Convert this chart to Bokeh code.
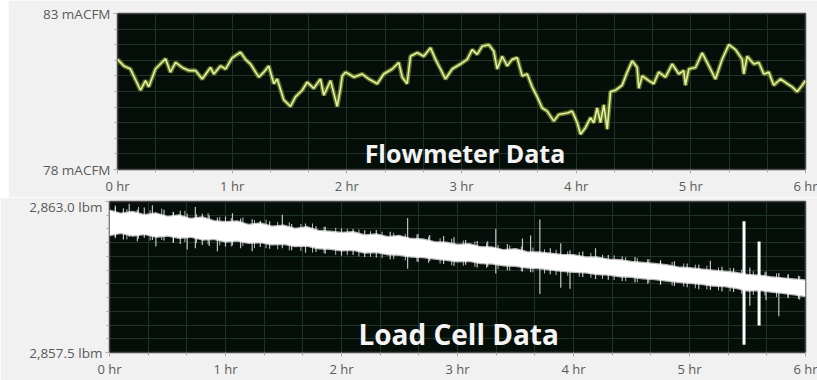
import numpy as np
from bokeh.plotting import figure
from bokeh.layouts import column, row
from bokeh.models import FixedTicker, CustomJSTickFormatter, Label, Spacer
from bokeh.embed import file_html
from bokeh.resources import INLINE

# ---------------- data ----------------
x_ticks = [0, 1, 2, 3, 4, 5, 6]
x_tick_labels = ["0 hr", "1 hr", "2 hr", "3 hr", "4 hr", "5 hr", "6 hr"]

flow_y_ticks = [78.0, 83.0]
flow_y_labels = ["78 mACFM", "83 mACFM"]
load_y_ticks = [2857.5, 2863.0]
load_y_labels = ["2,857.5 lbm", "2,863.0 lbm"]

flow_hours = [0.000, 0.055, 0.113, 0.201, 0.244, 0.273, 0.331, 0.419, 0.462, 0.506,
              0.564, 0.622, 0.680, 0.739, 0.811, 0.840, 0.898, 0.942, 1.000, 1.073,
              1.116, 1.160, 1.232, 1.276, 1.319, 1.363, 1.393, 1.450, 1.509, 1.552,
              1.611, 1.654, 1.712, 1.770, 1.799, 1.858, 1.916, 1.945, 1.960, 1.988,
              2.017, 2.061, 2.134, 2.192, 2.265, 2.322, 2.396, 2.453, 2.483, 2.526,
              2.555, 2.614, 2.671, 2.730, 2.773, 2.817, 2.860, 2.919, 2.991, 3.050,
              3.093, 3.137, 3.180, 3.238, 3.282, 3.311, 3.355, 3.398, 3.442, 3.486,
              3.529, 3.573, 3.616, 3.660, 3.704, 3.747, 3.805, 3.848, 3.922, 3.965,
              3.979, 4.009, 4.038, 4.081, 4.125, 4.154, 4.183, 4.212, 4.241, 4.271,
              4.299, 4.343, 4.401, 4.445, 4.489, 4.532, 4.546, 4.576, 4.633, 4.677,
              4.720, 4.779, 4.837, 4.895, 4.938, 4.953, 4.982, 5.041, 5.099, 5.157,
              5.215, 5.273, 5.331, 5.390, 5.448, 5.462, 5.491, 5.549, 5.593, 5.636,
              5.680, 5.723, 5.782, 5.840, 5.884, 5.927, 5.971, 6.000]
flow_macfm = [81.53, 81.32, 81.22, 80.54, 80.85, 80.65, 81.22, 81.55, 81.12, 81.43,
              81.27, 81.17, 81.17, 80.90, 81.27, 81.06, 81.32, 81.22, 81.58, 81.76,
              81.53, 81.38, 80.96, 81.12, 81.32, 80.75, 80.90, 80.23, 80.02, 80.33,
              80.54, 80.80, 80.60, 80.90, 80.38, 80.85, 80.02, 80.60, 81.00, 81.12,
              81.06, 80.96, 81.06, 80.90, 80.75, 81.06, 81.22, 81.43, 80.96, 80.75,
              81.63, 81.74, 81.63, 81.90, 81.53, 81.22, 80.90, 81.22, 81.38, 81.53,
              81.84, 81.69, 81.95, 82.00, 81.79, 81.22, 81.63, 81.32, 81.53, 81.58,
              81.00, 81.06, 80.65, 80.33, 79.97, 79.87, 79.55, 79.76, 79.81, 79.87,
              79.76, 79.50, 79.13, 79.34, 79.66, 79.50, 79.97, 79.50, 80.07, 79.29,
              80.49, 80.54, 80.70, 81.12, 81.48, 81.27, 80.60, 81.00, 80.85, 80.75,
              81.12, 80.96, 81.38, 81.06, 81.17, 80.70, 81.22, 81.27, 81.74, 81.32,
              80.90, 81.53, 82.00, 81.84, 81.53, 81.06, 81.63, 81.38, 81.43, 81.06,
              81.12, 80.70, 80.90, 80.75, 80.65, 80.49, 80.70, 80.85]

load_hours = [round(0.1 * i, 1) for i in range(61)]
load_upper = [2862.66, 2862.55, 2862.62, 2862.50, 2862.56, 2862.44, 2862.49, 2862.36, 2862.42, 2862.28,
              2862.24, 2862.27, 2862.14, 2862.20, 2862.08, 2862.12, 2862.00, 2862.06, 2861.93, 2861.90,
              2861.85, 2861.88, 2861.76, 2861.80, 2861.70, 2861.74, 2861.63, 2861.62, 2861.52, 2861.50,
              2861.42, 2861.44, 2861.33, 2861.32, 2861.22, 2861.26, 2861.15, 2861.14, 2861.10, 2861.05,
              2861.04, 2860.96, 2860.96, 2860.88, 2860.86, 2860.80, 2860.76, 2860.72, 2860.68, 2860.60,
              2860.57, 2860.52, 2860.48, 2860.44, 2860.40, 2860.32, 2860.30, 2860.24, 2860.20, 2860.16,
              2860.12]
load_lower = [2861.78, 2861.86, 2861.76, 2861.82, 2861.72, 2861.76, 2861.68, 2861.72, 2861.62, 2861.64,
              2861.54, 2861.58, 2861.50, 2861.52, 2861.44, 2861.46, 2861.38, 2861.40, 2861.30, 2861.28,
              2861.22, 2861.24, 2861.14, 2861.16, 2861.08, 2861.06, 2861.00, 2860.98, 2860.92, 2860.88,
              2860.82, 2860.84, 2860.76, 2860.74, 2860.68, 2860.66, 2860.60, 2860.58, 2860.52, 2860.48,
              2860.44, 2860.42, 2860.36, 2860.34, 2860.28, 2860.26, 2860.20, 2860.18, 2860.12, 2860.08,
              2860.04, 2860.00, 2859.94, 2859.92, 2859.86, 2859.76, 2859.78, 2859.72, 2859.68, 2859.62,
              2859.56]

spike_hours = [0.05, 0.12, 0.17, 0.24, 0.30, 0.37, 0.40, 0.47, 0.55, 0.61, 0.67, 0.74, 0.80, 0.86,
               0.93, 1.00, 1.06, 1.13, 1.23, 1.30, 1.38, 1.49, 1.57, 1.69, 1.78, 1.86, 2.00, 2.10,
               2.20, 2.30, 2.42, 2.57, 2.66, 2.76, 2.88, 2.97, 3.07, 3.17, 3.26, 3.33, 3.43, 3.56,
               3.63, 3.71, 3.80, 3.89, 3.97, 4.08, 4.19, 4.30, 4.42, 4.53, 4.64, 4.75, 4.87, 4.98,
               5.08, 5.18, 5.28, 5.38, 5.52, 5.66, 5.77, 5.85, 5.94]
spike_low = [2861.70, 2861.62, 2861.72, 2861.55, 2861.68, 2861.60, 2861.36, 2861.58, 2861.50, 2861.45,
             2861.25, 2861.30, 2861.42, 2861.38, 2861.19, 2861.36, 2861.40, 2861.30, 2861.19, 2861.34,
             2861.28, 2861.30, 2861.22, 2861.13, 2861.16, 2861.10, 2861.02, 2861.05, 2860.98, 2860.96,
             2860.90, 2860.55, 2860.80, 2860.82, 2860.72, 2860.66, 2860.70, 2860.60, 2860.62, 2860.38,
             2860.50, 2860.45, 2860.42, 2859.63, 2860.35, 2859.86, 2859.82, 2860.25, 2860.18, 2860.15,
             2860.10, 2860.05, 2860.00, 2859.98, 2859.92, 2859.88, 2859.80, 2859.78, 2859.72, 2859.70,
             2859.20, 2859.40, 2858.82, 2859.50, 2859.45]
spike_high = [2862.85, 2862.75, 2862.92, 2862.70, 2862.78, 2862.86, 2862.60, 2862.70, 2862.62, 2862.66,
              2862.55, 2862.80, 2862.55, 2862.50, 2862.42, 2862.45, 2862.57, 2862.38, 2862.35, 2862.30,
              2862.28, 2862.52, 2862.18, 2862.20, 2862.10, 2862.08, 2862.02, 2862.00, 2861.95, 2861.96,
              2861.90, 2862.40, 2861.82, 2861.78, 2861.74, 2861.70, 2861.60, 2861.56, 2861.55, 2862.00,
              2861.45, 2861.65, 2861.76, 2862.34, 2861.30, 2861.48, 2861.22, 2861.18, 2861.30, 2861.05,
              2861.00, 2860.98, 2860.90, 2860.86, 2860.82, 2860.74, 2860.70, 2860.84, 2860.62, 2860.58,
              2860.60, 2860.45, 2860.40, 2860.35, 2860.30]

fringe_hours = [0.05, 0.15, 0.25, 0.35, 0.45, 0.55, 0.65, 0.75, 0.85, 0.95,
                1.05, 1.15, 1.25, 1.35, 1.45, 1.55, 1.65, 1.75, 1.85, 1.95,
                2.05, 2.15, 2.25, 2.35, 2.45, 2.55, 2.65, 2.75, 2.85, 2.95,
                3.05, 3.15, 3.25, 3.35, 3.45, 3.55, 3.65, 3.75, 3.85, 3.95,
                4.05, 4.15, 4.25, 4.35, 4.45, 4.55, 4.65, 4.75, 4.85, 4.95,
                5.05, 5.15, 5.25, 5.35, 5.45, 5.55, 5.65, 5.75, 5.85, 5.95]
fringe_high = [2862.78, 2862.72, 2862.80, 2862.68, 2862.74, 2862.62, 2862.66, 2862.54, 2862.58, 2862.44,
               2862.40, 2862.42, 2862.32, 2862.34, 2862.26, 2862.24, 2862.18, 2862.20, 2862.08, 2862.04,
               2862.00, 2861.98, 2861.92, 2861.90, 2861.86, 2861.82, 2861.80, 2861.72, 2861.66, 2861.64,
               2861.58, 2861.54, 2861.50, 2861.42, 2861.40, 2861.36, 2861.32, 2861.26, 2861.24, 2861.18,
               2861.16, 2861.12, 2861.06, 2861.04, 2860.98, 2860.94, 2860.90, 2860.84, 2860.80, 2860.74,
               2860.70, 2860.66, 2860.60, 2860.58, 2860.52, 2860.46, 2860.42, 2860.38, 2860.34, 2860.28]
fringe_low = [2861.66, 2861.62, 2861.64, 2861.58, 2861.60, 2861.50, 2861.52, 2861.48, 2861.44, 2861.40,
              2861.36, 2861.38, 2861.30, 2861.30, 2861.26, 2861.22, 2861.20, 2861.14, 2861.12, 2861.06,
              2861.05, 2861.00, 2860.98, 2860.94, 2860.90, 2860.86, 2860.82, 2860.76, 2860.74, 2860.68,
              2860.66, 2860.62, 2860.58, 2860.54, 2860.48, 2860.46, 2860.42, 2860.38, 2860.32, 2860.30,
              2860.26, 2860.22, 2860.18, 2860.14, 2860.10, 2860.06, 2860.04, 2859.98, 2859.94, 2859.90,
              2859.84, 2859.80, 2859.76, 2859.72, 2859.64, 2859.60, 2859.58, 2859.52, 2859.48, 2859.42]

big_spike_hours = [5.47, 5.60]
big_spike_low = [2857.78, 2858.48]
big_spike_high = [2862.28, 2861.54]

# ---------------- styling ----------------
PAGE_BG = "#f1f1f1"
PLOT_BG = "#060e09"
GRID = "#1f3326"
TICK_COL = "#a9a9a9"
LABEL_COL = "#5a5a5a"
FONT = "Open Sans"

minor_x = [i / 3 for i in range(19)]

LOOKUP = ("let best = 0;"
          "for (let i = 0; i < tv.length; i++) {"
          "  if (Math.abs(tv[i] - tick) < Math.abs(tv[best] - tick)) best = i;"
          "}"
          "return tl[best];")


def style(p, yticks, ylabels, ystep):
    p.background_fill_color = PLOT_BG
    p.border_fill_color = PAGE_BG
    p.outline_line_color = "#4a4a4a"
    p.outline_line_width = 1.5

    yminor = [float(v) for v in np.arange(yticks[0], yticks[1] + 1e-9, ystep)]

    p.xaxis.ticker = FixedTicker(ticks=x_ticks, minor_ticks=minor_x)
    p.xaxis.formatter = CustomJSTickFormatter(args=dict(tv=x_ticks, tl=x_tick_labels), code=LOOKUP)
    p.yaxis.ticker = FixedTicker(ticks=yticks, minor_ticks=yminor)
    p.yaxis.formatter = CustomJSTickFormatter(args=dict(tv=yticks, tl=ylabels), code=LOOKUP)

    for ax in (p.xaxis[0], p.yaxis[0]):
        ax.axis_line_color = None
        ax.major_tick_line_color = TICK_COL
        ax.minor_tick_line_color = TICK_COL
        ax.major_tick_in = 0
        ax.major_tick_out = 4
        ax.minor_tick_in = 0
        ax.minor_tick_out = 3
        ax.major_label_text_font = FONT
        ax.major_label_text_color = LABEL_COL
        ax.major_label_standoff = 3
    p.xaxis.major_label_text_font_size = "13px"
    p.yaxis.major_label_text_font_size = "13.5px"

    p.xgrid.ticker = FixedTicker(ticks=minor_x)
    p.ygrid.ticker = FixedTicker(ticks=yminor)
    p.xgrid.grid_line_color = GRID
    p.ygrid.grid_line_color = GRID
    p.xgrid.grid_line_width = 1
    p.ygrid.grid_line_width = 1


# ---------------- top: flowmeter ----------------
top = figure(width=809, height=197, output_backend="svg", toolbar_location=None,
             x_range=(0, 6), y_range=(78, 83),
             min_border_left=109, min_border_right=12, min_border_top=13, min_border_bottom=24)
style(top, flow_y_ticks, flow_y_labels, 0.5)

top.line(flow_hours, flow_macfm, line_color="#a6c03c", line_width=4.5, line_alpha=0.55)
top.line(flow_hours, flow_macfm, line_color="#e4efa0", line_width=1.6)

top.add_layout(Label(x=3.03, y=78.0, text="Flowmeter Data", text_font=FONT,
                     text_font_style="bold", text_font_size="25px", text_color="#f4f4f4",
                     text_align="center", text_baseline="bottom"))

# ---------------- bottom: load cell ----------------
bot = figure(width=817, height=183, output_backend="svg", toolbar_location=None,
             x_range=(0, 6), y_range=(2857.5, 2863.0),
             min_border_left=109, min_border_right=12, min_border_top=4, min_border_bottom=20)
style(bot, load_y_ticks, load_y_labels, 0.5)

bot.segment(spike_hours, spike_low, spike_hours, spike_high, line_color="#ffffff",
            line_width=1.2, line_alpha=0.75)
bot.segment(fringe_hours, fringe_low, fringe_hours, fringe_high, line_color="#ffffff",
            line_width=1.0, line_alpha=0.7)
bot.line(load_hours, load_upper, line_color="#ffffff", line_width=2.5, line_alpha=0.7)
bot.line(load_hours, load_lower, line_color="#ffffff", line_width=2.5, line_alpha=0.7)
bot.varea(x=load_hours, y1=load_lower, y2=load_upper, fill_color="#ffffff")
bot.segment(big_spike_hours, big_spike_low, big_spike_hours, big_spike_high,
            line_color="#ffffff", line_width=3)

bot.add_layout(Label(x=3.01, y=2857.5, text="Load Cell Data", text_font=FONT,
                     text_font_style="bold", text_font_size="28px", text_color="#f4f4f4",
                     text_align="center", text_baseline="bottom"))

layout = column(row(Spacer(width=8, height=197), top), bot, spacing=0)
open("out.html", "w").write(file_html(layout, INLINE))
